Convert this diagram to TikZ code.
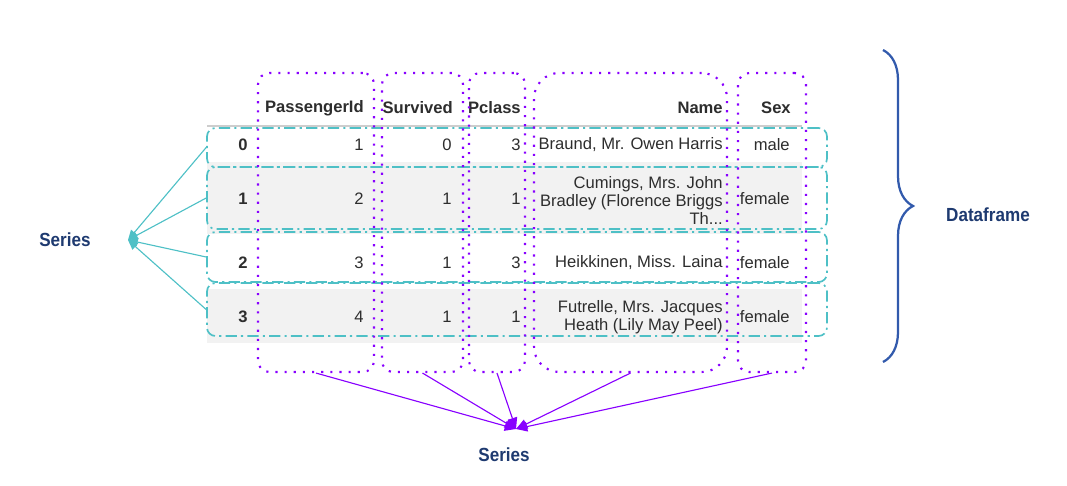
\documentclass[tikz,border=0pt]{standalone}
\usepackage{fontspec}
\setmainfont{Liberation Sans}
\newfontfamily\labelfont[FakeStretch=0.9]{Liberation Sans}
\usepackage{tikz}
\usetikzlibrary{positioning,fit,arrows.meta,decorations.pathreplacing}
\usepackage{xcolor}
\definecolor{colviolet}{RGB}{136,0,255}
\definecolor{rowteal}{RGB}{78,192,198}
\definecolor{braceblue}{RGB}{50,90,172}
\definecolor{labelnavy}{RGB}{30,58,112}
\definecolor{celltext}{RGB}{45,45,45}
\definecolor{rowgray}{RGB}{242,242,242}
\definecolor{headline}{RGB}{205,205,205}

\begin{document}
\begin{tikzpicture}[
        x=0.025cm, y=-0.025cm,
        cell/.style={anchor=east, inner sep=0pt, text=celltext, align=right, font=\fontsize{11.8}{12.8}\selectfont},
        head/.style={cell, font=\fontsize{11.8}{12.8}\selectfont\bfseries},
        colbox/.style={draw=colviolet, line width=1.5pt, dash pattern=on 1.5pt off 5pt, rounded corners=8pt, inner sep=0pt},
        rowbox/.style={draw=rowteal, line width=1.2pt, dash pattern=on 8pt off 3pt on 1.5pt off 3pt, rounded corners=6pt, inner sep=0pt},
        sidetext/.style={font=\labelfont\fontsize{13.5}{16}\selectfont\bfseries, text=labelnavy},
        rowarrow/.style={draw=rowteal, line width=0.8pt, -{Triangle[length=7pt,width=6pt]}},
        colarrow/.style={draw=colviolet, line width=0.8pt, -{Triangle[length=8pt,width=7pt]}}
    ]
        \useasboundingbox (0,0) rectangle (1067,486);

        % Table background
        \fill[rowgray] (207,162) rectangle (802,234);
        \fill[rowgray] (207,289) rectangle (802,343);
        \draw[headline, line width=0.8pt] (207,126) -- (802,126);

        % Header
        \node[head] (hId) at (364,108) {PassengerId};
        \node[head] (hSurv) at (453,108) {Survived};
        \node[head] (hPc) at (521,108) {Pclass};
        \node[head] (hName) at (723,108) {Name};
        \node[head] (hSex) at (791,108) {Sex};

        % Index column
        \node[head] (i0) at (248,145) {0};
        \node[head] (i1) at (248,199) {1};
        \node[head] (i2) at (248,263) {2};
        \node[head] (i3) at (248,317) {3};

        % Row 0
        \node[cell] (a0) at (364,145) {1};
        \node[cell] (b0) at (452,145) {0};
        \node[cell] (c0) at (521,145) {3};
        \node[cell] (d0) at (723,145) {Braund, Mr. Owen Harris};
        \node[cell] (e0) at (790,145) {male};

        % Row 1
        \node[cell] (a1) at (364,199) {2};
        \node[cell] (b1) at (452,199) {1};
        \node[cell] (c1) at (521,199) {1};
        \node[cell] (d1) at (723,200) {Cumings, Mrs. John\\Bradley (Florence Briggs\\Th...};
        \node[cell] (e1) at (790,199) {female};

        % Row 2
        \node[cell] (a2) at (364,263) {3};
        \node[cell] (b2) at (452,263) {1};
        \node[cell] (c2) at (521,263) {3};
        \node[cell] (d2) at (723,263) {Heikkinen, Miss. Laina};
        \node[cell] (e2) at (790,263) {female};

        % Row 3
        \node[cell] (a3) at (364,317) {4};
        \node[cell] (b3) at (452,317) {1};
        \node[cell] (c3) at (521,317) {1};
        \node[cell] (d3) at (723,317) {Futrelle, Mrs. Jacques\\Heath (Lily May Peel)};
        \node[cell] (e3) at (790,317) {female};

        % Row boxes
        \node[rowbox, fit={(207,128) (827,167)}] (row0) {};
        \node[rowbox, fit={(207,167) (827,229)}] (row1) {};
        \node[rowbox, fit={(207,232) (827,282)}] (row2) {};
        \node[rowbox, fit={(207,283) (827,336)}] (row3) {};

        % Column boxes
        \node[colbox, fit={(258,73) (374,372)}] (colId) {};
        \node[colbox, fit={(382,73) (463,372)}] (colSurv) {};
        \node[colbox, fit={(469,73) (525,372)}] (colPc) {};
        \node[colbox, rounded corners=18pt, fit={(534,73) (727,372)}] (colName) {};
        \node[colbox, fit={(738,73) (806,372)}] (colSex) {};

        % Labels
        \node[sidetext] (seriesLeft) at (65,240) {Series};
        \node[sidetext] (seriesBottom) at (504,455) {Series};
        \node[sidetext] (dataframe) at (988,215) {Dataframe};

        % Connections
        \coordinate (rowhub) at (128,240);
        \foreach \r in {row0,row1,row2,row3}
            \draw[rowarrow] (\r.west) -- (rowhub);
        \coordinate (colhub) at (516,429);
        \foreach \c in {colId,colSurv,colPc,colName,colSex}
            \draw[colarrow] (\c.south) -- (colhub);

        % Brace
        \draw[braceblue, line width=1.6pt, decorate, decoration={brace, amplitude=0.75cm}] (883,50) -- (883,362);
    \end{tikzpicture}
\end{document}
